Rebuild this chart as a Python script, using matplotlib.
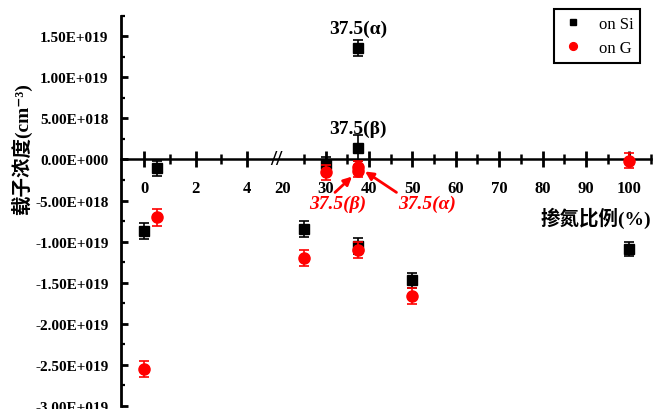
import numpy as np
import matplotlib
matplotlib.use('Agg')
import matplotlib.pyplot as plt
from matplotlib.ticker import FixedLocator, FuncFormatter, MultipleLocator

# on Si (black squares)
si_x = [0, 0.5, 25, 30, 37.5, 37.5, 37.5, 50, 100]
si_y = [-8.73e18, -1.07e18, -8.45e18, -0.6e18, 1.356e19, 1.4e18,
        -1.05e19, -1.47e19, -1.09e19]
si_err = [0.95e18, 0.9e18, 1.0e18, 0.9e18, 0.95e18, 1.6e18,
          0.95e18, 0.9e18, 0.85e18]

# on G (red circles)
g_x = [0, 0.5, 25, 30, 37.5, 37.5, 37.5, 50, 100]
g_y = [-2.55e19, -7.03e18, -1.2e19, -1.56e18, -0.9e18, -1.4e18,
       -1.1e19, -1.66e19, -1.5e17]
g_err = [1.0e18, 1.05e18, 1.0e18, 0.9e18, 0.7e18, 0.7e18,
         1.0e18, 0.95e18, 0.95e18]

x_major = [0, 2, 4, 20, 30, 40, 50, 60, 70, 80, 90, 100]
x_minor = [1, 3, 25, 35, 45, 55, 65, 75, 85, 95, 105]

# broken x axis: 0..5.36 linear, then 20..105 compressed
BRK_LO = 5.36
BRK_HI = 20.0
K = 0.1685


def fwd(x):
    x = np.asarray(x, dtype=float)
    return np.where(x <= BRK_LO, x,
                    np.where(x < BRK_HI, BRK_LO, BRK_LO + (x - BRK_HI) * K))


def inv(u):
    u = np.asarray(u, dtype=float)
    return np.where(u <= BRK_LO, u, BRK_HI + (u - BRK_LO) / K)


def sci(v, pos=None):
    if v == 0:
        return '0.00E+000'
    e = int(np.floor(np.log10(abs(v))))
    m = v / 10**e
    sign = '+' if e >= 0 else '-'
    return '%.2fE%s%03d' % (m, sign, abs(e))


plt.rcParams['font.family'] = ['Liberation Serif', 'Noto Sans CJK SC', 'DejaVu Sans']
plt.rcParams['font.weight'] = 'bold'

fig = plt.figure(figsize=(6.55, 4.1), dpi=100)
ax = fig.add_axes([121 / 655, 3 / 410, 530 / 655, 390.4 / 410])
ax.set_xscale('function', functions=(fwd, inv))

h_si = ax.errorbar(si_x, si_y, yerr=si_err, fmt='s', color='black', ms=7,
                   capsize=3.5, elinewidth=1.2, capthick=1.2, zorder=3)
h_g = ax.errorbar(g_x, g_y, yerr=g_err, fmt='o', color='red', ms=8,
                  capsize=3.5, elinewidth=1.2, capthick=1.2, zorder=4)

ax.set_xlim(-0.9, 105)
ax.set_ylim(-3e19, 1.75e19)

ax.xaxis.set_major_locator(FixedLocator(x_major))
ax.xaxis.set_minor_locator(FixedLocator(x_minor))
ax.xaxis.set_major_formatter(FuncFormatter(lambda v, p: '%d' % round(v)))
ax.yaxis.set_major_locator(MultipleLocator(0.5e19))
ax.yaxis.set_minor_locator(MultipleLocator(0.25e19))
ax.yaxis.set_major_formatter(FuncFormatter(sci))

ax.spines['top'].set_visible(False)
ax.spines['right'].set_visible(False)
ax.spines['left'].set_linewidth(2)
ax.spines['bottom'].set_position(('data', 0))
ax.spines['bottom'].set_linewidth(1.8)

ax.tick_params(axis='x', which='major', direction='inout', length=11.5,
               width=2, pad=9, labelsize=12)
ax.tick_params(axis='x', which='minor', direction='inout', length=6.5, width=1.8)
ax.tick_params(axis='y', which='major', direction='in', length=5, width=2,
               pad=9, labelsize=11)
ax.tick_params(axis='y', which='minor', direction='in', length=3, width=1.6)

# hide the tick at the break, draw the break mark instead
ax.xaxis.get_major_ticks()[3].tick1line.set_visible(False)
ax.text(5.15, 0, '//', ha='center', va='center', fontsize=16,
        fontweight='bold', zorder=5)

ax.set_ylabel('载子浓度(cm⁻³)', fontsize=14, fontweight='bold')
ax.yaxis.set_label_coords(-0.168, 0.66)
ax.set_xlabel('掺氮比例(%)', fontsize=14, fontweight='bold', ha='right')
ax.xaxis.set_label_coords(1.0, 0.51)

ax.text(37.5, 1.6e19, '37.5(α)', ha='center', va='center', fontsize=14,
        fontweight='bold')
ax.text(37.5, 3.83e18, '37.5(β)', ha='center', va='center', fontsize=14,
        fontweight='bold')
ax.annotate('37.5(β)', xy=(37.5, g_y[5]), xytext=(32.8, -5.4e18),
            color='red', fontsize=14, fontweight='bold', fontstyle='italic',
            ha='center', va='center',
            arrowprops=dict(arrowstyle='-|>', color='red', lw=2,
                            relpos=(0.4, 1), shrinkA=0, shrinkB=6,
                            mutation_scale=12))
ax.annotate('37.5(α)', xy=(37.5, g_y[4]), xytext=(53.3, -5.4e18),
            color='red', fontsize=14, fontweight='bold', fontstyle='italic',
            ha='center', va='center',
            arrowprops=dict(arrowstyle='-|>', color='red', lw=2,
                            relpos=(0.05, 1), shrinkA=0, shrinkB=6,
                            mutation_scale=12))

leg = ax.legend([h_si[0], h_g[0]], ['on Si', 'on G'], loc='upper right',
                bbox_to_anchor=(640 / 655, 1 - 10 / 410),
                bbox_transform=fig.transFigure, borderaxespad=0,
                fancybox=False, framealpha=1, edgecolor='black',
                markerscale=0.7, handlelength=1.5, handletextpad=0.8,
                prop={'family': 'Liberation Serif', 'weight': 'normal', 'size': 12})
leg.get_frame().set_linewidth(1.5)

fig.savefig('out.png', dpi=100)
